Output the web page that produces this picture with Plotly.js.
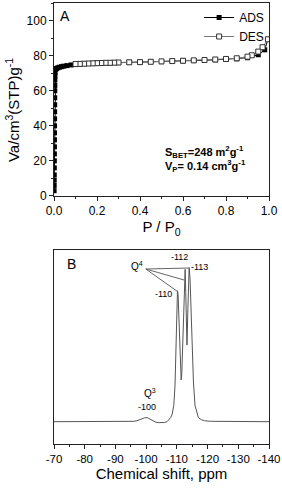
<!DOCTYPE html>
<html>
<head>
<meta charset="utf-8">
<script src="https://cdn.plot.ly/plotly-3.0.1.min.js"></script>
<style>html,body{margin:0;padding:0;background:#fff;}#chart{width:282px;height:488px;}</style>
</head>
<body>
<div id="chart"></div>
<script>
// Panel A: N2 isotherm
var adsP = [0.0005,0.0008,0.001,0.0012,0.0014,0.0016,0.0018,0.002,0.0022,0.0024,0.0026,0.0028,0.003,0.0032,0.0034,0.0036,0.0038,0.004,0.0045,0.005,0.008,0.012,0.018,0.025,0.035,0.045,0.06,0.08,0.1,0.12,0.14,0.16,0.18,0.2,0.22,0.24,0.26,0.28,0.3,0.35,0.4,0.45,0.5,0.55,0.6,0.65,0.7,0.75,0.8,0.85,0.9,0.95,0.98,0.995];
var adsV = [3,6,9,12,16,20,24,28,32,36,40,44,48,52,56,60,63,66,68.5,70.5,72.2,72.7,73.1,73.4,73.7,74.0,74.3,74.7,75.0,75.2,75.4,75.5,75.6,75.7,75.8,75.9,75.9,76.0,76.0,76.2,76.3,76.5,76.6,76.8,77.0,77.2,77.4,77.6,77.9,78.2,78.8,80.5,83.3,89.3];
var desP = [0.995,0.97,0.95,0.92,0.9,0.85,0.8,0.75,0.7,0.65,0.6,0.55,0.5,0.45,0.4,0.35,0.3,0.28,0.26,0.24,0.22,0.2,0.18,0.16,0.14,0.12,0.1];
var desV = [89.3,84.8,82.3,80.2,79.4,78.5,78.1,77.8,77.5,77.3,77.1,76.9,76.7,76.5,76.3,76.2,76.1,76.0,75.9,75.9,75.8,75.7,75.6,75.5,75.4,75.3,75.2];
var xTicksA = [0, 0.2, 0.4, 0.6, 0.8, 1.0];
var yTicksA = [0, 20, 40, 60, 80, 100];

// Panel B: 29Si NMR spectrum
var shift = [-70,-75,-80,-85,-90,-94,-96,-97,-98,-98.5,-99,-99.5,-100,-100.3,-100.7,-101.2,-101.8,-102.5,-103.2,-104,-105,-106,-106.8,-107.4,-108,-108.5,-109,-109.4,-109.7,-110,-110.2,-110.4,-110.7,-111,-111.2,-111.4,-111.6,-111.9,-112.2,-112.5,-112.7,-112.9,-113.1,-113.3,-113.6,-113.8,-114.0,-114.3,-114.6,-115,-115.4,-115.9,-116.5,-117,-118,-119,-121,-125,-130,-135,-140];
var intensity = [11.5,11.5,11.4,11.4,11.4,11.5,11.7,12.0,12.4,12.8,13.2,13.5,13.7,13.6,13.3,12.8,12.2,11.6,11.2,11.0,11.0,11.1,11.5,12.3,13.6,15.5,20,30,45,70,79,77,64,48,39,33,36,52,72,88,90,78,56,51,70,88,91,85,68,48,32,20,16,13.6,12.5,12.0,11.7,11.6,11.5,11.5,11.5];
var xTicksB = [-70,-80,-90,-100,-110,-120,-130,-140];
var xTickTextB = ['-70','-80','-90','-100','-110','-120','-130','-140'];

var F = 'Liberation Sans, Arial, sans-serif';
var axisLine = '#222';

var traces = [
  {x: adsP, y: adsV, xaxis: 'x', yaxis: 'y', name: 'ADS', type: 'scatter', mode: 'lines+markers',
   line: {color: '#000', width: 1}, marker: {symbol: 'square', size: 5, color: '#000'}},
  {x: desP, y: desV, xaxis: 'x', yaxis: 'y', name: 'DES', type: 'scatter', mode: 'lines+markers',
   line: {color: '#777', width: 1}, marker: {symbol: 'square', size: 5, color: '#fff', line: {color: '#333', width: 1}}},
  {x: shift, y: intensity, xaxis: 'x2', yaxis: 'y2', name: 'NMR', type: 'scatter', mode: 'lines',
   line: {color: '#555', width: 1}, showlegend: false}
];

var layout = {
  width: 282, height: 488,
  margin: {l: 54, r: 13, t: 3, b: 44},
  paper_bgcolor: '#fff', plot_bgcolor: '#fff',
  font: {family: F, size: 12, color: '#000'},
  showlegend: true,
  legend: {x: 0.675, y: 1.0, xanchor: 'left', yanchor: 'top', bgcolor: 'rgba(0,0,0,0)',
           font: {family: F, size: 12}, tracegroupgap: 0, itemwidth: 30},
  xaxis: {domain: [0, 1], anchor: 'y', range: [0, 1], tickvals: xTicksA, tickformat: '.1f',
          showline: true, mirror: true, linecolor: axisLine, linewidth: 1, showgrid: false, zeroline: false,
          ticks: 'outside', ticklen: 4, tickcolor: axisLine,
          minor: {dtick: 0.1, ticks: 'outside', ticklen: 2, tickcolor: axisLine, showgrid: false},
          tickfont: {family: F, size: 12},
          title: {text: 'P / P<sub>0</sub>', font: {family: F, size: 15}, standoff: 4}},
  yaxis: {domain: [0.5624, 1], anchor: 'x', range: [0, 110], tickvals: yTicksA,
          showline: true, mirror: true, linecolor: axisLine, linewidth: 1, showgrid: false, zeroline: false,
          ticks: 'outside', ticklen: 4, tickcolor: axisLine,
          minor: {dtick: 10, ticks: 'outside', ticklen: 2, tickcolor: axisLine, showgrid: false},
          tickfont: {family: F, size: 12}},
  xaxis2: {domain: [0, 1], anchor: 'y2', range: [-70, -140], tickvals: xTicksB, ticktext: xTickTextB,
           showline: true, mirror: true, linecolor: axisLine, linewidth: 1, showgrid: false, zeroline: false,
           ticks: 'outside', ticklen: 4, tickcolor: axisLine,
           minor: {dtick: 5, ticks: 'outside', ticklen: 2, tickcolor: axisLine, showgrid: false},
           tickfont: {family: F, size: 11.5},
           title: {text: 'Chemical shift, ppm', font: {family: F, size: 15}, standoff: 4}},
  yaxis2: {domain: [0, 0.4399], anchor: 'x2', range: [0, 100],
           showline: true, mirror: true, linecolor: axisLine, linewidth: 1, showgrid: false, zeroline: false,
           showticklabels: false, ticks: ''},
  shapes: [
    {type: 'line', xref: 'x2', yref: 'y2', x0: -99.9, y0: 90.2, x1: -113.8, y1: 90.7, line: {color: '#666', width: 1}},
    {type: 'line', xref: 'x2', yref: 'y2', x0: -99.9, y0: 90.2, x1: -112.4, y1: 84.5, line: {color: '#666', width: 1}},
    {type: 'line', xref: 'x2', yref: 'y2', x0: -99.9, y0: 90.2, x1: -110.3, y1: 78.5, line: {color: '#666', width: 1}}
  ],
  annotations: [
    {text: 'Va/cm<sup>3</sup>(STP)g<sup>-1</sup>', xref: 'paper', yref: 'paper', x: -0.196, y: 0.757,
     textangle: -90, showarrow: false, font: {family: F, size: 15}, xanchor: 'center', yanchor: 'middle'},
    {text: 'A', xref: 'x', yref: 'y', x: 0.02, y: 102.8, xanchor: 'left', showarrow: false, font: {family: F, size: 14}},
    {text: '<b>S<sub>BET</sub>=248 m<sup>2</sup>g<sup>-1</sup></b>', xref: 'x', yref: 'y', x: 0.505, y: 25,
     xanchor: 'left', showarrow: false, font: {family: F, size: 11}},
    {text: '<b>V<sub>P</sub>= 0.14 cm<sup>3</sup>g<sup>-1</sup></b>', xref: 'x', yref: 'y', x: 0.505, y: 17,
     xanchor: 'left', showarrow: false, font: {family: F, size: 11}},
    {text: 'B', xref: 'x2', yref: 'y2', x: -73.5, y: 93, xanchor: 'left', showarrow: false, font: {family: F, size: 14}},
    {text: 'Q<sup>4</sup>', xref: 'x2', yref: 'y2', x: -96.9, y: 91.8, showarrow: false, font: {family: F, size: 10}},
    {text: '-112', xref: 'x2', yref: 'y2', x: -111.0, y: 96.5, showarrow: false, font: {family: F, size: 9}},
    {text: '-113', xref: 'x2', yref: 'y2', x: -117.5, y: 91.4, showarrow: false, font: {family: F, size: 9}},
    {text: '-110', xref: 'x2', yref: 'y2', x: -105.5, y: 77.3, showarrow: false, font: {family: F, size: 9}},
    {text: 'Q<sup>3</sup>', xref: 'x2', yref: 'y2', x: -101.3, y: 26.4, showarrow: false, font: {family: F, size: 10}},
    {text: '-100', xref: 'x2', yref: 'y2', x: -100.2, y: 19.2, showarrow: false, font: {family: F, size: 9}}
  ]
};

Plotly.newPlot('chart', traces, layout, {displayModeBar: false, staticPlot: true});
</script>
</body>
</html>
